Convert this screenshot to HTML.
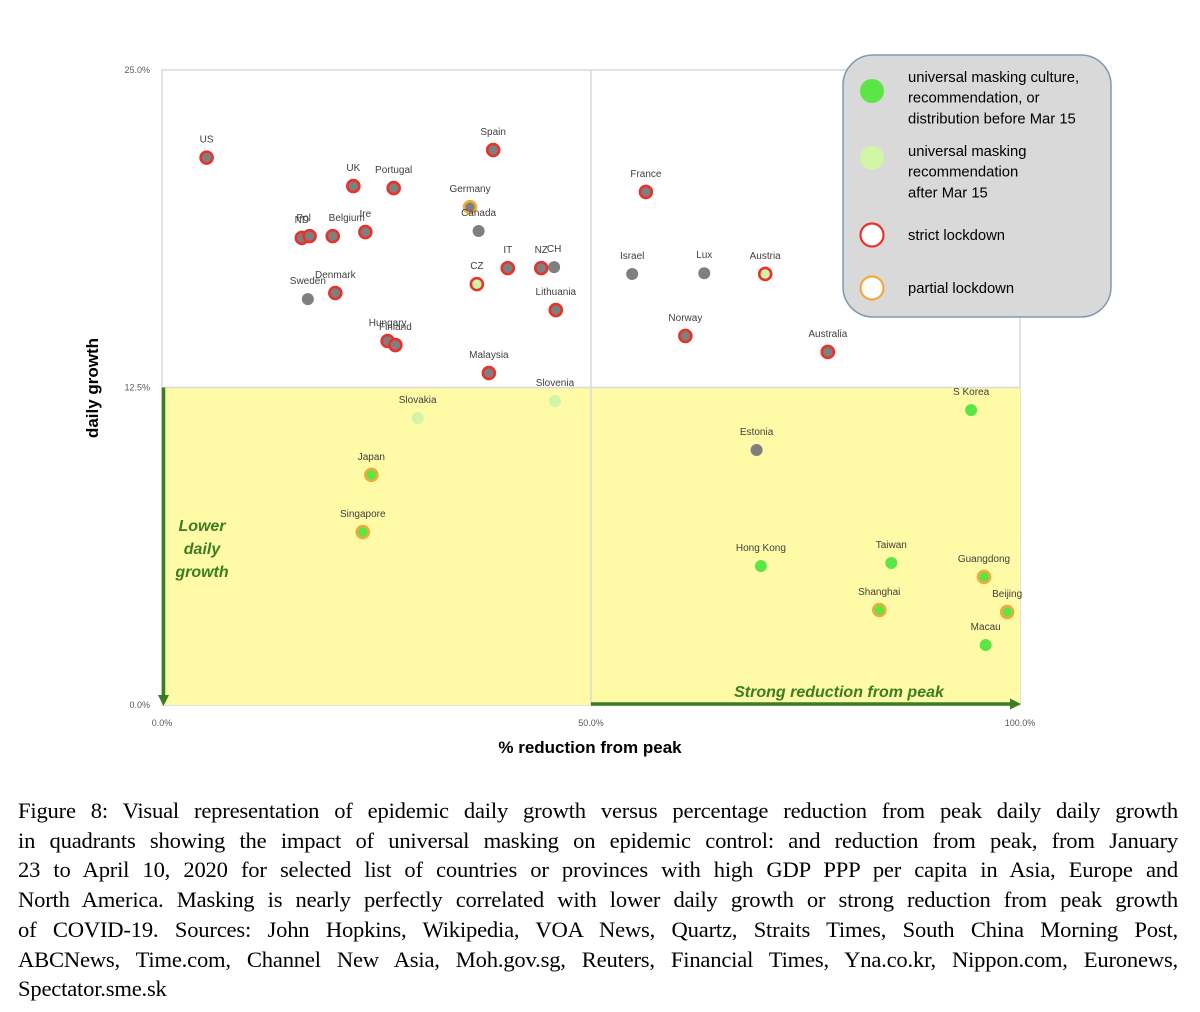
<!DOCTYPE html>
<html><head><meta charset="utf-8"><style>
html,body{margin:0;padding:0;background:#fff;}
body{width:1200px;height:1012px;position:relative;overflow:hidden;font-family:"Liberation Sans",sans-serif;}
#cap{position:absolute;left:18px;top:796px;width:1160px;font-family:"Liberation Serif",serif;font-size:22.6px;line-height:29.7px;color:#000;letter-spacing:-0.2px;}
#cap div{text-align:justify;text-align-last:justify;white-space:nowrap;}
#cap div.last{text-align-last:left;}
</style></head><body>
<svg id="chart" width="1200" height="790" style="position:absolute;left:0;top:0" font-family="Liberation Sans, sans-serif">
<g id="bg"></g><g id="marks"></g>
</svg>
<div id="cap">
<div>Figure 8: Visual representation of epidemic daily growth versus percentage reduction from peak daily daily growth</div>
<div>in quadrants showing the impact of universal masking on epidemic control: and reduction from peak, from January</div>
<div>23 to April 10, 2020 for selected list of countries or provinces with high GDP PPP per capita in Asia, Europe and</div>
<div>North America. Masking is nearly perfectly correlated with lower daily growth or strong reduction from peak growth</div>
<div>of COVID-19. Sources: John Hopkins, Wikipedia, VOA News, Quartz, Straits Times, South China Morning Post,</div>
<div>ABCNews, Time.com, Channel New Asia, Moh.gov.sg, Reuters, Financial Times, Yna.co.kr, Nippon.com, Euronews,</div>
<div class="last">Spectator.sme.sk</div>
</div>
<script>
const names=["US","UK","Portugal","Spain","Germany","Canada","ND","Pol","Belgium","Ire","IT","NZ","CH","CZ","Lithuania","Sweden","Denmark","Hungary","Finland","Malaysia","Slovenia","Slovakia","Japan","Singapore","France","Israel","Lux","Austria","Norway","Australia","S Korea","Estonia","Hong Kong","Taiwan","Guangdong","Shanghai","Beijing","Macau"];
const reduction=[5.2,22.3,27.0,38.6,35.9,36.9,16.3,17.2,19.9,23.7,40.3,44.2,45.7,36.7,45.9,17.0,20.2,26.3,27.2,38.1,45.8,29.8,24.4,23.4,56.4,54.8,63.2,70.3,61.0,77.6,94.3,69.3,69.8,85.0,95.8,83.6,98.5,96.0];
const growth=[21.55,20.43,20.35,21.85,19.6,18.66,18.39,18.46,18.46,18.62,17.2,17.2,17.24,16.57,15.55,15.98,16.22,14.33,14.17,13.07,11.97,11.3,9.06,6.81,20.2,16.97,17.0,16.97,14.53,13.9,11.61,10.04,5.47,5.59,5.04,3.74,3.66,2.36];
const masking=["none","none","none","none","none","none","none","none","none","none","none","none","none","late","none","none","none","none","none","none","late","late","early","early","none","none","none","late","none","none","early","none","early","early","early","early","early","early"];
const lockdown=["strict","strict","strict","strict","partial","none","strict","strict","strict","strict","strict","strict","none","strict","strict","none","strict","strict","strict","strict","none","none","partial","partial","strict","none","none","strict","strict","strict","none","none","none","none","partial","partial","partial","none"];
const xTicks=[0,50,100];
const yTicks=[0,12.5,25];
const labelDx=[0,0,0,0,0,0,0,-6,14,0,0,0,0,0,0,0,0,0,0,0,0,0,0,0,0,0,0,0,0,0,0,0,0,0,0,0,0,0];
const labelDy=[0,0,0,0,0,0,0,0,0,0,0,0,0,0,0,0,0,0,0,0,0,0,0,0,0,0,0,0,0,0,0,0,0,0,0,0,0,0];
const X0=162,X1=1020,Y0=705,Y1=70;
function sx(v){return X0+(v/100)*(X1-X0);}
function sy(v){return Y0-(v/25)*(Y0-Y1);}
const NS="http://www.w3.org/2000/svg";
function mk(tag,attrs,parent,text){const e=document.createElementNS(NS,tag);for(const k in attrs)e.setAttribute(k,attrs[k]);if(text!==undefined)e.textContent=text;parent.appendChild(e);return e;}
const bg=document.getElementById('bg'),marks=document.getElementById('marks');
let r=mk('rect',{x:X0,y:Y1,width:X1-X0,height:Y0-Y1,fill:'#fff',stroke:'#d9d9d9','stroke-width':1.5},bg);

let q=mk('rect',{x:X0,y:sy(12.5),width:X1-X0,height:Y0-sy(12.5),fill:'#fffaa6'},bg);

let vl=mk('line',{x1:sx(50),x2:sx(50),y1:Y1,y2:Y0,stroke:'#d9d9d9','stroke-width':1.5},bg);

let hl=mk('line',{x1:X0,x2:X1,y1:sy(12.5),y2:sy(12.5),stroke:'#d9d9d9','stroke-width':1.5},bg);

xTicks.forEach(t=>{const e=mk('text',{x:sx(t),y:Y0+21,'text-anchor':'middle','font-size':9,fill:'#595959'},bg,t.toFixed(1)+'%');
});
yTicks.forEach(t=>{const e=mk('text',{x:X0-12,y:sy(t)+3,'text-anchor':'end','font-size':9,fill:'#595959'},bg,t.toFixed(1)+'%');
});
let va=mk('path',{d:`M${X0+1.5} ${sy(12.5)} L${X0+1.5} ${Y0-8}`,stroke:'#3a7d22','stroke-width':3.5},bg);

let vh=mk('path',{d:`M${X0-4} ${Y0-10} L${X0+7} ${Y0-10} L${X0+1.5} ${Y0+1} Z`,fill:'#3a7d22'},bg);

let ha=mk('path',{d:`M${sx(50)} ${Y0-1} L${X1-8} ${Y0-1}`,stroke:'#3a7d22','stroke-width':3.5},bg);

let hh=mk('path',{d:`M${X1-10} ${Y0-6.5} L${X1+1} ${Y0-1} L${X1-10} ${Y0+4.5} Z`,fill:'#3a7d22'},bg);

let lt=mk('text',{x:202,y:531,'text-anchor':'middle','font-size':16,'font-weight':'bold','font-style':'italic',fill:'#3a7d22'},bg);

['Lower','daily','growth'].forEach((w,i)=>mk('tspan',{x:202,dy:i?23:0},lt,w));
let st=mk('text',{x:839,y:697,'text-anchor':'middle','font-size':16,'font-weight':'bold','font-style':'italic',fill:'#3a7d22'},bg,'Strong reduction from peak');

let xt=mk('text',{x:590,y:753,'text-anchor':'middle','font-size':17,'font-weight':'bold',fill:'#000'},bg,'% reduction from peak');

let yt=mk('text',{x:0,y:0,'text-anchor':'middle','font-size':17,'font-weight':'bold',fill:'#000',transform:'translate(98,388) rotate(-90)'},bg,'daily growth');

const fillC={none:'#7f7f7f',late:'#d2f5a5',early:'#5ce645'};
const ringC={strict:'#e8322b',partial:'#f2ab3a',none:null};
names.forEach((n,i)=>{
 const cx=sx(reduction[i]),cy=sy(growth[i]);
 const g=mk('g',{},marks);
 
 
 const rc=ringC[lockdown[i]];
 if(rc) mk('circle',{cx:cx,cy:cy,r:6,fill:fillC[masking[i]],stroke:rc,'stroke-width':2.6},g);
 else mk('circle',{cx:cx,cy:cy,r:6,fill:fillC[masking[i]]},g);
 mk('text',{x:cx+labelDx[i],y:cy-15+labelDy[i],'text-anchor':'middle','font-size':10,fill:'#404040'},g,n);
});
const lg=mk('g',{},marks);

mk('rect',{x:843,y:55,width:268,height:262,rx:30,fill:'#d9d9d9',stroke:'#8497b0','stroke-width':1.5},lg);
const legY=[91,158,235,288];
const legFill=['#5ce645','#d2f5a5','#fff','#fff'];
const legStroke=[null,null,'#e8322b','#f2ab3a'];
const legText=[['universal masking culture,','recommendation, or','distribution before Mar 15'],['universal masking','recommendation','after Mar 15'],['strict lockdown'],['partial lockdown']];
const legTop=[82,156,240,293];
legY.forEach((y,i)=>{
 const e=mk('g',{},lg);
 
 if(legStroke[i]) mk('circle',{cx:872,cy:y,r:11.5,fill:legFill[i],stroke:legStroke[i],'stroke-width':2.2},e);
 else mk('circle',{cx:872,cy:y,r:12,fill:legFill[i]},e);
 legText[i].forEach((t,j)=>mk('text',{x:908,y:legTop[i]+j*20.7,'font-size':14.8,fill:'#000'},e,t));
});
</script>
</body></html>
